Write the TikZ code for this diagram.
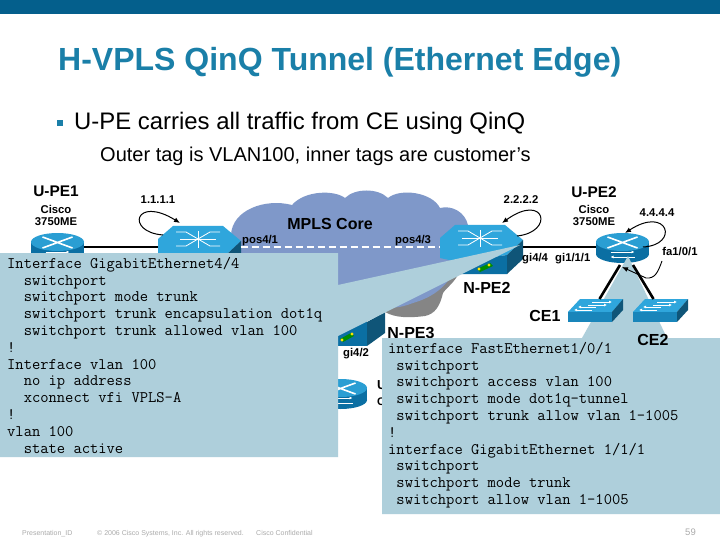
\documentclass[tikz,border=0pt]{standalone}
\usepackage{fontspec}
\setmainfont{Liberation Sans}
\usetikzlibrary{arrows.meta}
\definecolor{barblue}{HTML}{045F8C}
\definecolor{titleblue}{HTML}{1A7FA8}
\definecolor{paleblue}{HTML}{AECFDB}
\definecolor{cloudblue}{HTML}{7F98C9}
\definecolor{cloudshadow}{HTML}{858585}
\definecolor{facelight}{HTML}{2FA6DC}
\definecolor{frontblue}{HTML}{0B6FA3}
\definecolor{sidedark}{HTML}{0F5578}
\definecolor{footgray}{HTML}{ABABAB}
\newcommand{\fs}[1]{\fontsize{#1}{#1}\selectfont}
\tikzset{
  x=1pt,y=-1pt,
  lab/.style={inner sep=0pt,font=\bfseries\fs{16}},
  smalllab/.style={inner sep=0pt,font=\bfseries\fs{11.3}},
  foot/.style={inner sep=0pt,anchor=base west,text=footgray,font=\fs{7}},
  anchorbox/.style={inner sep=0pt,outer sep=0pt,minimum width=#1,minimum height=16pt},
  codebox/.style={inner sep=0pt,anchor=north west,align=left,font=\ttfamily\fs{16.1}\addfontfeature{FakeBold=0.6}},
  link/.style={line width=1.6pt,black},
  loopline/.style={line width=1pt,black,-{Latex[length=6pt,width=5pt]}},
  callout/.style={fill=paleblue,draw=none},
  catalyst/.pic={
    \fill[facelight] (0,13)--(15,0)--(65,0)--(83,15)--(67,30)--(18,37)--(0,33)--cycle;
    \fill[frontblue] (18,37)--(67,30)--(67,49)--(18,49)--cycle;
    \fill[sidedark] (67,30)--(83,15)--(83,34)--(67,49)--cycle;
    \draw[white,line width=.8pt] (18,6)--(28,6)--(40,13)--(52,6)--(62,6);
    \draw[white,line width=.8pt] (18,20)--(28,20)--(40,13)--(52,20)--(62,20);
    \draw[white,line width=.8pt] (22,13)--(58,13) (40,5)--(40,22);
    \fill[green!55!black] (37,44)--(50,38)--(53,41)--(40,47)--cycle;
    \fill[yellow!85!orange] (39,44) circle (1.6) (49,40) circle (1.6);
  },
  router/.pic={
    \fill[frontblue] (0,12) ellipse [x radius=26.5,y radius=9];
    \fill[frontblue] (-26.5,0) rectangle (26.5,12);
    \fill[facelight!85!frontblue] (0,0) ellipse [x radius=26.5,y radius=9];
    \draw[white,line width=1.6pt] (-15,-5)--(-4,-1)--(4,2)--(15,6) (15,-5)--(4,-1)--(-4,2)--(-15,6);
    \draw[white,line width=.8pt,-{Latex[length=3pt,width=3pt]}] (-12,10)--(12,10);
    \draw[white,line width=.8pt,{Latex[length=3pt,width=3pt]}-] (-12,15)--(12,15);
  },
  lanswitch/.pic={
    \fill[facelight] (0,13)--(12,0)--(55,0)--(44,13)--cycle;
    \fill[frontblue!60!facelight] (0,13)--(44,13)--(44,23)--(0,23)--cycle;
    \fill[sidedark] (44,13)--(55,0)--(55,11)--(44,23)--cycle;
    \draw[white,line width=.7pt,-{Latex[length=3pt,width=3pt]}] (24,3)--(44,3);
    \draw[white,line width=.7pt,-{Latex[length=3pt,width=3pt]}] (20,6)--(39,6);
    \draw[white,line width=.7pt,-{Latex[length=3pt,width=3pt]}] (28,8)--(10,8);
    \draw[white,line width=.7pt,-{Latex[length=3pt,width=3pt]}] (24,11)--(6,11);
  }
}
\begin{document}
\begin{tikzpicture}
\useasboundingbox (0,0) rectangle (720,540);
\fill[white] (0,0) rectangle (720,540);
\fill[barblue] (0,0) rectangle (720,14);
\node[inner sep=0pt,anchor=west,text=titleblue,font=\bfseries\fs{32}] (title) at (58,62) {H-VPLS QinQ Tunnel (Ethernet Edge)};
\fill[titleblue] (57,120) rectangle (63,126);
\node[inner sep=0pt,anchor=west,font=\fs{23.9}] (bul) at (74,123) {U-PE carries all traffic from CE using QinQ};
\node[inner sep=0pt,anchor=west,font=\fs{20}] (sub) at (100,156) {Outer tag is VLAN100, inner tags are customer’s};
% cloud
\fill[cloudshadow] (400,280)--(458,275) .. controls (452,285) and (446,288) .. (443,293) .. controls (440,306) and (435,314) .. (425,316) .. controls (410,318) and (395,318) .. (385,312)--cycle;
\fill[cloudblue] (231,320)--(231,235) .. controls (232,210) and (265,198) .. (292,205)
  .. controls (305,190) and (335,190) .. (345,198)
  .. controls (355,188) and (378,188) .. (388,198)
  .. controls (400,188) and (432,192) .. (440,208)
  .. controls (452,205) and (465,212) .. (468,225)
  -- (470,265) -- (450,278) .. controls (442,290) and (430,298) .. (413,303)
  .. controls (400,308) and (390,309) .. (380,306) -- (330,320) -- cycle;
\node[lab] (core) at (330,224) {MPLS Core};
% devices
\node[anchorbox=53pt] (upe1) at (57.5,247) {};
\node[anchorbox=83pt] (npe1) at (199,247) {};
\node[anchorbox=83pt] (npe2) at (481.5,247) {};
\node[anchorbox=53pt] (upe2) at (622.5,247) {};
\node[anchorbox=55pt,minimum height=23pt] (ce1) at (595.5,310.5) {};
\node[anchorbox=55pt,minimum height=23pt] (ce2) at (660.5,310.5) {};
\pic at (158,226) {catalyst};
\pic at (440,225) {catalyst};
\pic at (57.5,242) {router};
\pic at (622.5,242) {router};
\pic at (340.5,388) {router};
% N-PE3 device
\fill[frontblue] (320,320) rectangle (367,346);
\fill[sidedark] (367,322)--(385,312)--(385,333)--(367,346)--cycle;
\fill[green!55!black] (340,339)--(351,333)--(354,336)--(343,342)--cycle;
\fill[yellow!85!orange] (342,340) circle (1.6) (352,334) circle (1.6);
\draw[link] (upe1.east) -- (npe1.west);
\draw[link] (npe2.east) -- (upe2.west);
\draw[white,line width=1.2pt,dash pattern=on 7pt off 4pt] (npe1.east) -- (npe2.west);
% labels
\node[lab,font=\bfseries\fs{15.4}] (lupe1) at (56,191) {U-PE1};
\node[smalllab] (lc1) at (56,209) {Cisco};
\node[smalllab] (lm1) at (56,222) {3750ME};
\node[smalllab] (lip1) at (158,200) {1.1.1.1};
\node[smalllab] (lip2) at (521,200) {2.2.2.2};
\node[lab,font=\bfseries\fs{15.4}] (lupe2) at (594,192) {U-PE2};
\node[smalllab] (lc2) at (594,209) {Cisco};
\node[smalllab] (lm2) at (594,222) {3750ME};
\node[smalllab] (lip4) at (657,213) {4.4.4.4};
\node[smalllab] (lfa) at (680,252) {fa1/0/1};
\node[smalllab,anchor=west] (lgi44) at (522,259) {gi4/4};
\node[smalllab,anchor=west] (lgi11) at (555,259) {gi1/1/1};
\node[smalllab,anchor=west] (lp41) at (242,241) {pos4/1};
\node[smalllab,anchor=west] (lp43) at (395,241) {pos4/3};
\node[lab] (lnpe2) at (487,288) {N-PE2};
\node[lab] (lnpe3) at (411,333) {N-PE3};
\node[smalllab,anchor=west] (lgi42) at (343,354) {gi4/2};
\node[lab,anchor=west,font=\bfseries\fs{13}] (lu) at (377,385) {U};
\node[lab,anchor=west,font=\bfseries\fs{11}] (lcc) at (377,402) {C};
% callouts
\fill[callout] (382,338)--(582,338)--(628,256)--(667,338)--(720,338)--(720,514)--(382,514)--cycle;
\pic at (568,299) {lanswitch};
\pic at (633,299) {lanswitch};
\draw[line width=2.6pt,black] (ce1.north) ++(4,0) -- (620,265);
\draw[line width=2.6pt,black] (ce2.north) ++(-7,0) -- (633,265);
\node[lab] (lce1) at (545,316) {CE1};
\node[lab] (lce2) at (653,340) {CE2};
\fill[callout] (0,253)--(338,253)--(338,285)--(520,245)--(338,336)--(338,457)--(0,457)--cycle;
% loops
\coordinate (l1s) at (163,235); \coordinate (l1e) at (180,223);
\coordinate (l2s) at (517,236); \coordinate (l2e) at (502,223);
\coordinate (l4s) at (643,247); \coordinate (l4e) at (625,233);
\draw[loopline] (l1s) .. controls (125,232) and (135,195) .. (l1e);
\draw[loopline] (l2s) .. controls (555,232) and (545,192) .. (l2e);
\draw[loopline] (l4s) .. controls (680,245) and (668,205) .. (l4e);
\coordinate (fas) at (662,261); \coordinate (fae) at (622,267);
\draw[line width=.9pt,-{Latex[length=6pt,width=5pt]}] (fas) .. controls (658,272) and (655,279) .. (646,278) -- (fae);
% code
\node[codebox] (leftcode) at (7,257) {Interface GigabitEthernet4/4\\[.7pt]
\ \ switchport\\[.7pt]
\ \ switchport mode trunk\\[.7pt]
\ \ switchport trunk encapsulation dot1q\\[.7pt]
\ \ switchport trunk allowed vlan 100\\[.7pt]
!\\[.7pt]
Interface vlan 100\\[.7pt]
\ \ no ip address\\[.7pt]
\ \ xconnect vfi VPLS-A\\[.7pt]
!\\[.7pt]
vlan 100\\[.7pt]
\ \ state active};
\node[codebox] (rightcode) at (388,342) {interface FastEthernet1/0/1\\[.7pt]
\ switchport\\[.7pt]
\ switchport access vlan 100\\[.7pt]
\ switchport mode dot1q-tunnel\\[.7pt]
\ switchport trunk allow vlan 1-1005\\[.7pt]
!\\[.7pt]
interface GigabitEthernet 1/1/1\\[.7pt]
\ switchport\\[.7pt]
\ switchport mode trunk\\[.7pt]
\ switchport allow vlan 1-1005};
% footer
\node[foot] (f1) at (22,535) {Presentation\_ID};
\node[foot] (f2) at (97,535) {© 2006 Cisco Systems, Inc. All rights reserved.};
\node[foot] (f3) at (256,535) {Cisco Confidential};
\node[inner sep=0pt,anchor=base east,text=footgray,font=\fs{9.5}] (pg) at (696,535) {59};
\end{tikzpicture}
\end{document}
